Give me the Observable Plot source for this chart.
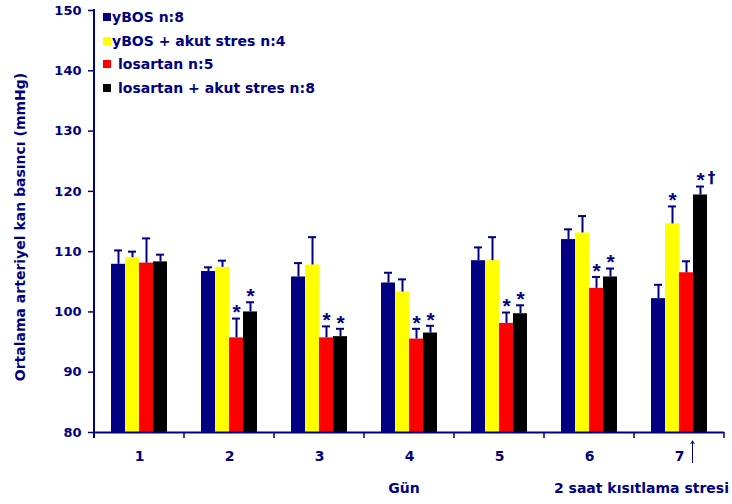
<!DOCTYPE html>
<html>
<head>
<meta charset="utf-8">
<script src="https://cdn.jsdelivr.net/npm/d3@7"></script>
<script src="https://cdn.jsdelivr.net/npm/@observablehq/plot@0.6"></script>
<style>
  body { margin: 0; background: #fff; }
  #wrap { position: relative; width: 732px; height: 504px; font-family: "DejaVu Sans", sans-serif; }
  .legend { position: absolute; left: 103px; top: 5px; color: #000080; font-weight: bold; font-size: 14px; }
  .legend .row { display: flex; align-items: center; height: 23.7px; white-space: nowrap; }
  .legend .sw { width: 8px; height: 8px; display: inline-block; flex: none; }
</style>
</head>
<body>
<div id="wrap"></div>
<script>
// ---- data ----
const days = ["1", "2", "3", "4", "5", "6", "7"];
const seriesNames = ["yBOS n:8", "yBOS + akut stres n:4", "losartan n:5", "losartan + akut stres n:8"];
const seriesColors = ["#000080", "#FFFF00", "#FF0000", "#000000"];
const yTicks = [80, 90, 100, 110, 120, 130, 140, 150];
const yMin = 80, yMax = 150;

const yBOSMean        = [107.9, 106.7, 105.8, 104.8, 108.5, 112.0, 102.2];
const yBOSSE          = [2.3, 0.7, 2.3, 1.7, 2.2, 1.7, 2.3];
const yBOSStresMean   = [109.0, 107.4, 107.8, 103.3, 108.5, 113.1, 114.6];
const yBOSStresSE     = [1.0, 1.1, 4.6, 2.1, 3.9, 2.8, 2.9];
const losartanMean    = [108.1, 95.7, 95.7, 95.5, 98.1, 103.9, 106.5];
const losartanSE      = [4.1, 3.2, 1.9, 1.7, 1.8, 1.9, 1.9];
const losStresMean    = [108.3, 100.0, 95.9, 96.5, 99.7, 105.8, 119.4];
const losStresSE      = [1.2, 1.6, 1.3, 1.2, 1.4, 1.4, 1.4];

const yBOSSig         = ["", "", "", "", "", "", ""];
const yBOSStresSig    = ["", "", "", "", "", "", "*"];
const losartanSig     = ["", "*", "*", "*", "*", "*", ""];
const losStresSig     = ["", "*", "*", "*", "*", "*", "*"];
const losStresDagger  = ["", "", "", "", "", "", "†"];

const yLabel = "Ortalama arteriyel kan basıncı (mmHg)";
const xLabelLeft = "Gün";
const xLabelRight = "2 saat kısıtlama stresi";
// stress marker arrow (day 7), in y units below the axis
const stressArrow = [{day: "7", series: "losartan n:5", y1: 75.0, y2: 78.6}];

// ---- build table ----
const means = [yBOSMean, yBOSStresMean, losartanMean, losStresMean];
const ses = [yBOSSE, yBOSStresSE, losartanSE, losStresSE];
const sigs = [yBOSSig, yBOSStresSig, losartanSig, losStresSig];
const table = [];
seriesNames.forEach((s, i) => days.forEach((d, j) => {
  table.push({day: d, series: s, mean: means[i][j], top: means[i][j] + ses[i][j], sig: sigs[i][j],
              dagger: i === 3 ? losStresDagger[j] : ""});
}));

const navy = "#000080";
const font = "DejaVu Sans, sans-serif";

const plot = Plot.plot({
  width: 732,
  height: 504,
  marginLeft: 93,
  marginRight: 8,
  marginTop: 10,
  marginBottom: 72,
  style: {fontFamily: font, fontWeight: "bold", color: navy, background: "white", overflow: "visible"},
  fx: {domain: days, padding: 0, label: null},
  x: {domain: seriesNames, paddingInner: 0, paddingOuter: 1.1, axis: null},
  y: {domain: [yMin, yMax]},
  color: {domain: seriesNames, range: seriesColors},
  marks: [
    Plot.axisY({ticks: yTicks, tickSize: 6, tickPadding: 7, fontSize: 13, color: navy, strokeWidth: 1.5, label: null, tickFormat: d => String(d)}),
    Plot.axisFx({anchor: "bottom", tickSize: 0, tickPadding: 19, fontSize: 14, color: navy, label: null}),
    Plot.barY(table, {fx: "day", x: "series", y1: () => yMin, y2: "mean", fill: "series"}),
    Plot.ruleX(table, {fx: "day", x: "series", y1: "mean", y2: "top", stroke: navy, strokeWidth: 2}),
    Plot.tickY(table, {fx: "day", x: "series", y: "top", stroke: navy, strokeWidth: 2, insetLeft: 3, insetRight: 3}),
    Plot.text(table.filter(d => d.sig), {fx: "day", x: "series", y: "top", text: "sig", dy: -6, fontSize: 21,
      fontFamily: "Liberation Sans, Arial, sans-serif", fill: navy}),
    Plot.text(table.filter(d => d.dagger), {fx: "day", x: "series", y: "top", text: "dagger", dx: 11, dy: -8, fontSize: 15, fill: navy}),
    Plot.ruleY([yMin], {stroke: navy, strokeWidth: 2}),
    Plot.arrow(stressArrow, {fx: "day", x1: "series", x2: "series", y1: "y1", y2: "y2", dx: 6, stroke: navy, strokeWidth: 1, headLength: 5})
  ]
});

document.getElementById("wrap").appendChild(plot);

// axis lines and boundary ticks from the library's scales
const svg = d3.select(plot);
const fx = plot.scale("fx"), ys = plot.scale("y");
const x0 = fx.apply(days[0]);
const yTop = ys.apply(yMax), yBot = ys.apply(yMin);
const g = svg.append("g").attr("stroke", navy);
g.append("line").attr("x1", x0).attr("x2", x0).attr("y1", yTop - 1).attr("y2", yBot + 6).attr("stroke-width", 2);
days.forEach(d => {
  const xb = fx.apply(d) + fx.bandwidth;
  g.append("line").attr("x1", xb).attr("x2", xb).attr("y1", yBot).attr("y2", yBot + 6).attr("stroke-width", 1.5);
});
const t = svg.append("g").attr("fill", navy).attr("font-family", font).attr("font-weight", "bold").attr("font-size", 14);
t.append("text").attr("transform", `translate(25,${(yTop + yBot) / 2 + 6}) rotate(-90)`).attr("text-anchor", "middle").text(yLabel);
t.append("text").attr("x", fx.apply("4") + fx.bandwidth / 2 - 5).attr("y", 493).text(xLabelLeft);
t.append("text").attr("x", 729).attr("y", 493).attr("text-anchor", "end").text(xLabelRight);

// legend inside the plot area
const legendGaps = [1, 1, 7, 7];
const leg = d3.select("#wrap").append("div").attr("class", "legend");
seriesNames.forEach((s, i) => {
  const row = leg.append("div").attr("class", "row");
  row.append("span").attr("class", "sw").style("background", seriesColors[i]).style("margin-right", legendGaps[i] + "px");
  row.append("span").text(s);
});
</script>
</body>
</html>
